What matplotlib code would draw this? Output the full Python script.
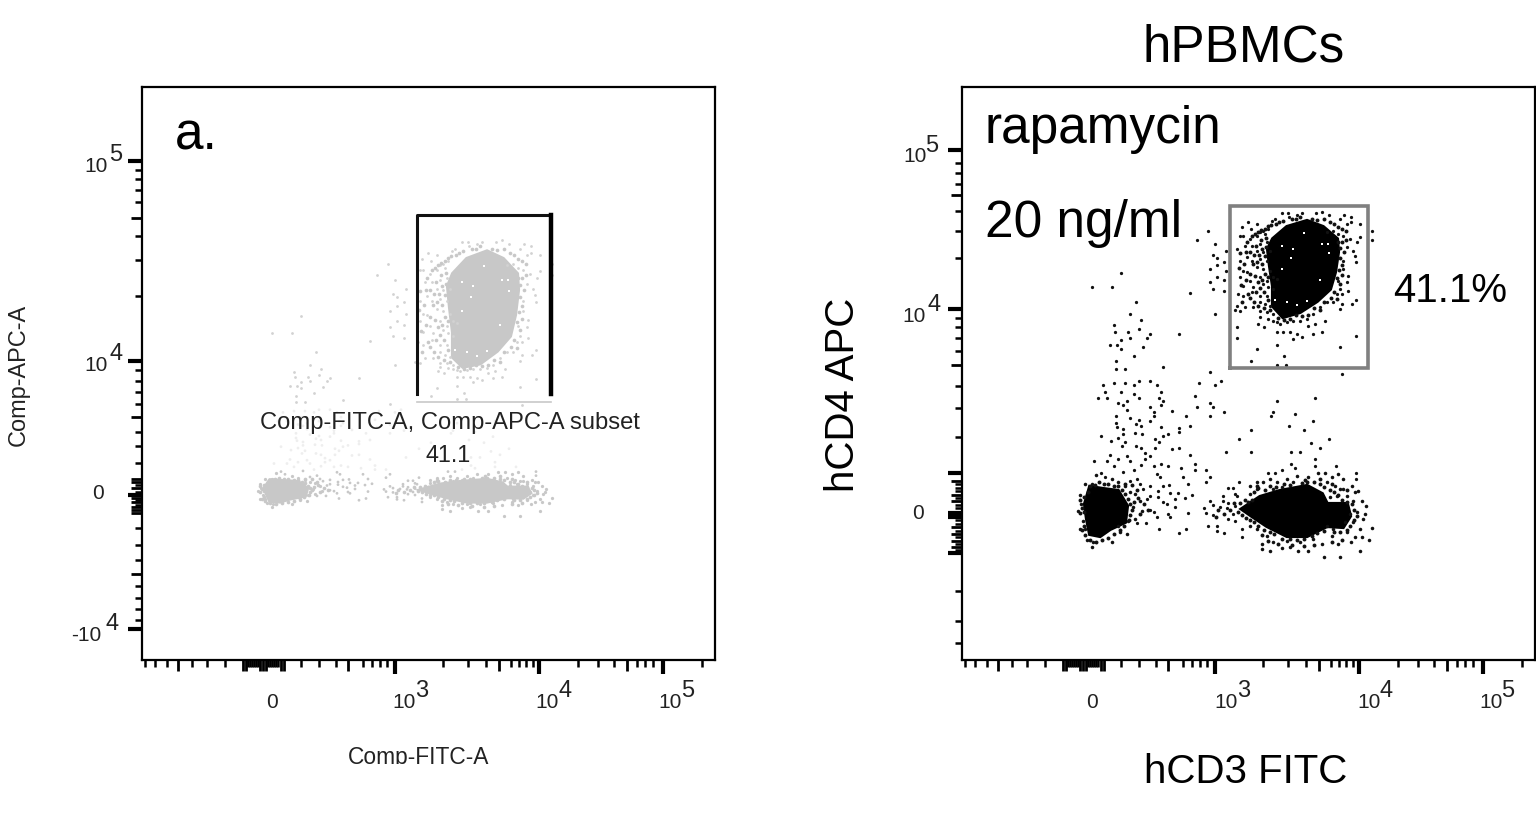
import numpy as np
import matplotlib
matplotlib.use('Agg')
import matplotlib.pyplot as plt
from matplotlib.transforms import Bbox

plt.rcParams['font.family'] = ['Liberation Sans', 'DejaVu Sans']

# all events are in display channels of the hCD3/hCD4 panel
top_x = [235,246,253,264,251,255,262,255,248,264,255,262,248,251,262,228,253,159,130,150,174,168,179,152,177,153,166,168,188,185,159,148,155,159,181,172,154,154,163,201,217,248,380,410,410,
         280,286,289,295,301,310,313,320,326,327,335,340,354,360,367,382,389,389,378,385,398,278,281,288,295,298,303,306,290,298,305,275,283,295,301,308,278,285,290,298,305,281,285,295,301,308,278,288,298,305,311,315,281,291,301,306,311,276,281,290,298,305,275,283,291,298,303,308,273,278,298,305,311,298,306,315,296,302,311,318,325,331,338,345,351,358,365,371,380,390,394,378,363,351,360,394,378,315,321,328,335,331,340,346,353,275,275,315,295,322,289,315,324,
         381,388,395,398,385,391,393,381,394,381,386,376,385,378,386,375,380,365,371,376]
top_y = [420,429,416,409,405,402,398,395,391,389,383,380,378,371,369,367,346,387,373,373,358,346,340,335,331,328,328,322,326,322,320,315,315,311,313,304,299,291,291,293,326,288,286,429,420,
         433,438,431,436,429,439,441,447,447,443,445,447,447,448,445,445,443,438,441,436,436,424,424,421,424,428,426,431,414,416,418,411,414,409,408,409,399,403,399,401,399,389,388,393,391,389,383,379,383,379,383,381,374,373,376,373,371,366,364,368,364,364,354,353,353,358,356,354,350,349,349,348,346,343,341,338,336,333,339,336,338,339,339,341,346,353,358,358,356,356,360,351,339,326,328,324,313,328,328,328,326,321,323,334,336,333,322,315,311,304,299,295,295,
         424,421,418,423,413,409,404,399,398,391,384,379,378,371,369,366,366,428,429,426]

mid_x = [141,152,163,172,177,188,195,143,159,172,199,136,145,177,197,201,156,161,165,199,188,165,192,210,192,154,168,224,177,188,174,179,154,228,155,161,199,217,217,173,180,161,206,201,139,156,193,149,163,160,197,174,179,193,210,217,183,228,148,188,165,156,183,168,132,145,199,179,192,206,233,152,219,233,244,172,139,195,161,143,221,248,198,175,168,244,226,178,207,188,201,181,196,208,216,230,188,196,223,213,185,201,205,213,188,192,206,226,195,208,175,184,197,224,217,
         237,253,259,233,248,235,251,262,248,315,353,311,309,333,351,327,342,289,277,367,349,358,264,289,329,338,353,329,353,333,374,306,313,320,277,394,394,266,271,273,261,275,248,251,261,266,258,242,244,251,265,273,271,266,273,246,255,262,255,280,280]
mid_y = [275,277,277,275,279,279,275,268,268,266,268,262,262,262,262,259,257,255,259,255,253,250,248,249,244,244,242,244,240,239,236,234,237,234,233,231,233,232,228,227,226,226,226,224,224,222,221,219,218,214,218,214,212,212,211,212,207,205,205,204,204,201,201,199,199,199,196,195,194,194,196,194,192,190,190,190,187,186,188,183,183,183,183,181,179,178,176,176,175,174,174,171,169,167,167,165,164,163,162,161,161,158,156,153,150,148,146,147,143,143,137,137,131,131,127,
         277,275,279,264,257,253,253,248,244,259,262,248,244,246,239,234,230,230,221,221,217,212,208,208,208,208,201,196,194,192,194,187,187,190,178,187,181,172,172,166,164,164,159,155,159,157,153,152,147,145,152,154,146,141,139,134,134,127,129,123,131]

ring_x = [288,295,301,308,315,325,335,346,356,363,370,376,381,365,373,381,390,396,400,404,403,401,395,391,398,410,407,400,393,398,378,362,389,376,370,360,346,336,328,320,308,300,300,311,325,338,351,295,288,305,365,371,385,383,388,385,391,393,375,368,378,295,288,311,320,331,
          118,123,130,134,150,156,163,168,173,178,171,180,173,166,165,150,131,130,125,118,123,116,119,121,158,156]
ring_y = [174,178,178,181,178,181,184,183,187,187,183,186,181,178,174,171,174,169,159,154,146,141,148,138,131,132,120,123,123,109,103,103,118,116,124,116,109,109,113,112,109,111,116,118,119,118,121,131,134,124,134,131,128,138,146,164,159,168,164,163,171,171,166,171,173,178,
          165,176,176,185,181,178,174,168,166,159,153,149,141,139,126,118,118,113,120,131,131,149,156,139,128,134]

# speckle hugging the solid parts
edge_x = [290,293,296,299,303,306,309,314,317,321,330,334,338,350,355,362,368,372,376,380,384,376,380,384,378,382,378,380,377,380,375,378,372,375,369,362,358,352,346,340,334,328,322,316,308,302,296,292,288,294,298,302,306,296,300,293,303,306,291,295,300,303,297,292,288,300,304,294,299,304,285,284,278,282,277,288,284,279,286,280,
          292,296,303,308,314,322,328,340,343,352,358,362,368,372,376,380,385,390,392,395,392,388,385,378,372,362,355,350,342,335,328,320,312,308,302,296,292,288,284,280,276,300,306,316,330,342,352,370,380,286,290,283,278,272,268,262,256,254,295,385,370,358,345,
          118,120,122,118,122,126,128,133,137,142,146,152,156,160,163,166,168,170,168,167,162,158,152,146,140,134,128,123,122,120,176,182,186,172,178,163,175,170]
edge_y = [424,426,428,430,431,434,435,436,438,439,441,441,443,441,440,441,438,436,433,431,429,418,418,420,412,408,402,395,390,385,382,376,368,361,362,358,350,352,345,344,345,341,340,342,350,352,354,358,362,368,372,368,360,378,380,384,386,383,396,398,396,404,405,405,408,411,413,414,420,422,418,408,407,396,392,386,380,375,366,358,
          168,172,170,174,173,176,175,177,180,178,176,173,170,168,165,160,158,156,150,144,140,134,130,128,128,129,127,124,121,120,121,121,126,128,130,134,138,140,142,145,148,125,119,116,115,114,115,118,120,158,160,160,157,157,150,146,150,143,174,170,176,181,178,
          147,152,148,160,163,168,174,175,178,176,176,174,174,170,166,161,156,150,145,140,134,130,126,122,120,118,120,125,134,130,162,156,150,158,146,176,170,175]

# solid parts of the three populations
core_top_x = [311,325,345,361,375,376,373,368,355,338,321,311,311,308,306]
core_top_y = [421,433,439,433,421,408,388,371,359,348,343,354,374,394,411]
core_cd3_x = [280,298,318,345,360,365,385,388,381,365,345,325,305,290]
core_cd3_y = [151,163,169,174,166,156,156,144,133,134,124,124,134,144]
core_neg_x = [123,128,141,156,165,163,148,138,128,125]
core_neg_y = [156,173,171,169,154,138,131,124,126,141]
gap_x = [320,331,329,320,358,342,366,367,360,313,325,335,345]
gap_y = [414,411,402,391,380,427,416,407,416,360,358,355,359]

# hCD4 channel -> Comp-APC channel, the left plot has another y display
right_ch = [0,116,146,176,350,511,573]
left_ch = [60,155,168,181,298,498,573]

x_major = [253,397,521]
x_mid = [36,101,104,118,121,124,139,142,206,357,485]
x_minor = [3,13,25,50,65,83,106,108,110,112,114,116,126,128,130,132,134,136,159,177,194,221,230,238,245,301,326,344,369,377,384,391,436,456,472,495,503,511,560]

yl_major = [31,165,299,499]
yl_mid = [86,147,150,153,158,162,172,178,181,243,442]
yl_minor = [40,51,62,74,100,115,132,155,160,168,175,197,214,228,256,268,279,290,364,400,424,458,470,481,490]

yr_major = [143,145,147,187,107,351,510]
yr_mid = [113,119,126,133,159,165,179,295,465]
yr_minor = [17,39,69,110,116,123,129,136,140,152,155,162,169,172,176,223,252,274,309,322,333,342,402,429,449,476,487,497]

W, H = 1536, 837
fig = plt.figure(figsize=(W/100, H/100), dpi=100)


def put(px, py, s, size, color='black', **kw):
    return fig.text(px/W, 1-py/H, s, fontsize=size, color=color, ha='center', va='center', **kw)


def make_axes(left, ymajor, ymid, yminor):
    ax = fig.add_axes([left/W, (H-661)/H, 573/W, 573/H])
    ax.set_xlim(0, 573)
    ax.set_ylim(0, 573)
    for s in ax.spines.values():
        s.set_linewidth(1.6)
    ax.set_xticks(x_major, labels=[])
    ax.set_xticks(x_minor, minor=True)
    ax.set_yticks(ymajor, labels=[])
    ax.set_yticks(yminor, minor=True)
    ax.tick_params(which='major', length=10, width=3)
    ax.tick_params(which='minor', length=5, width=1.8, labelbottom=False, labelleft=False)
    sx = ax.secondary_xaxis('bottom')
    sx.set_xticks(x_mid, labels=[])
    sx.tick_params(length=8, width=2)
    sx.spines['bottom'].set_visible(False)
    sy = ax.secondary_yaxis('left')
    sy.set_yticks(ymid, labels=[])
    sy.tick_params(length=8, width=2)
    sy.spines['left'].set_visible(False)
    return ax


def to_left(y):
    return np.interp(y, right_ch, left_ch)


# left plot, gated events in grey
ax1 = make_axes(142, yl_major, yl_mid, yl_minor)
grey = '#c8c8c8'
ax1.fill(core_top_x, to_left(core_top_y), color=grey, lw=3)
ax1.fill(core_cd3_x, to_left(core_cd3_y), color=grey, lw=3)
ax1.fill(core_neg_x, to_left(core_neg_y), color=grey, lw=3)
ax1.scatter(gap_x, to_left(gap_y), s=3, c='white', marker='s', lw=0)
ax1.scatter(top_x, to_left(top_y), s=4, c='#d2d2d2', marker='o', lw=0)
ax1.scatter(ring_x, to_left(ring_y), s=5.5, c=grey, marker='o', lw=0)
ax1.scatter(edge_x, to_left(edge_y), s=7, c=grey, marker='o', lw=0)
mid_left = to_left(mid_y)
ax1.scatter(mid_x, mid_left, s=4, c=np.where(mid_left < 190, grey, '#eeeeee'), marker='o', lw=0)
ax1.plot([275, 275, 408], [266, 445, 445], color='#111111', lw=2.2)
ax1.plot([409, 409], [266, 445], color='black', lw=3.2)
ax1.plot([275, 409], [258, 258], color='#c8c8c8', lw=1.2)

put(450, 423, 'Comp-FITC-A, Comp-APC-A subset', 17.1, color='#222222')
put(448, 456, '41.1', 16.8, color='#222222')
put(196, 136, 'a.', 37)
put(18, 375, 'Comp-APC-A', 16.9, color='#222222', rotation=90)
t = put(419, 758, 'Comp-FITC-A', 16.4, color='#222222')
t.set_clip_box(Bbox([[300, H-765], [540, H-740]]))
t.set_clip_on(True)

for px, py, s in [(272, 703, '0'), (98, 494, '0')]:
    put(px, py, s, 15, color='#222222')
for px, py, s, sx, sy, e in [(404, 703, '10', 422, 691, '3'), (547, 703, '10', 565, 691, '4'), (670, 703, '10', 688, 691, '5'),
                             (96, 167, '10', 116, 155, '5'), (96, 366, '10', 116, 354, '4'), (86, 636, '-10', 112, 624, '4')]:
    put(px, py, s, 15, color='#222222')
    put(sx, sy, e, 17, color='#222222')

# right plot, black dots and grey gate
ax2 = make_axes(962, yr_major, yr_mid, yr_minor)
ax2.fill(core_top_x, core_top_y, color='black', lw=3)
ax2.fill(core_cd3_x, core_cd3_y, color='black', lw=3)
ax2.fill(core_neg_x, core_neg_y, color='black', lw=3)
ax2.scatter(gap_x, gap_y, s=3, c='white', marker='s', lw=0)
for ex, ey, es in [(top_x, top_y, 5.5), (mid_x, mid_y, 5.5), (ring_x, ring_y, 6.5), (edge_x, edge_y, 8)]:
    ax2.scatter(ex, ey, s=es, c='#111111', marker='o', lw=0)
ax2.plot([268, 406, 406, 268, 268], [292, 292, 454, 454, 292], color='#808080', lw=2.6, solid_joinstyle='miter')

put(1244, 48, 'hPBMCs', 36.8)
put(1103, 129, 'rapamycin', 37)
put(1084, 224, '20 ng/ml', 37)
put(1450, 291, '41.1%', 29)
put(843, 395, 'hCD4 APC', 29, rotation=90)
put(1246, 772, 'hCD3 FITC', 29)

for px, py, s in [(1092, 703, '0'), (918, 514, '0')]:
    put(px, py, s, 15, color='#222222')
for px, py, s, sx, sy, e in [(1226, 703, '10', 1244, 691, '3'), (1369, 703, '10', 1386, 691, '4'), (1491, 703, '10', 1508, 691, '5'),
                             (915, 157, '10', 932, 146, '5'), (914, 317, '10', 934, 305, '4')]:
    put(px, py, s, 15, color='#222222')
    put(sx, sy, e, 17, color='#222222')

fig.savefig('out.png', dpi=100)
